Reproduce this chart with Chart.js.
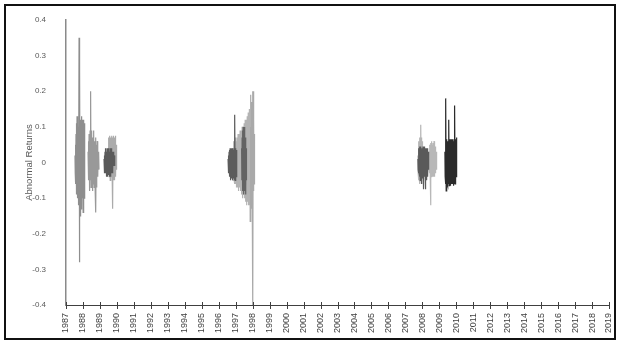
<!DOCTYPE html>
<html>
<head>
<meta charset="utf-8">
<script src="https://cdn.jsdelivr.net/npm/chart.js@4"></script>
<style>
  body { margin: 0; background: #fff; }
  #wrap { position: relative; width: 619px; height: 345px; }
  #frame { position: absolute; left: 4px; top: 4px; width: 612px; height: 336px; border: 2px solid #111; box-sizing: border-box; pointer-events: none; }
</style>
</head>
<body>
<div id="wrap">
  <canvas id="chart" width="619" height="345"></canvas>
  <div id="frame"></div>
</div>
<script>
// spacing between observations (years)
const STEP = 0.015;

const yearTicks = [1987, 2019];
const yTicks = [-0.4, 0.4, 0.1];

// each window: start date (decimal year) + abnormal returns
const start1987a = 1987.53;
const ret1987a = [0.02,-0.03,0.05,-0.06,0.08,-0.09,0.11,-0.08,0.13,-0.1,0.12,-0.07,0.1,-0.12,0.09,-0.11,0.35,-0.28,0.13,0.26,-0.15,0.12,-0.14,0.1,-0.13,0.11,-0.12,0.13,-0.09,0.12,-0.1,0.08,-0.14,0.11,-0.07,0.12,-0.1,0.11,-0.08,0.06];

const start1988 = 1988.30;
const ret1988 = [0.03,-0.04,0.06,-0.05,0.08,-0.06,0.07,-0.08,0.09,-0.05,0.06,0.2,-0.07,0.08,-0.06,0.09,-0.04,0.07,-0.08,0.05,-0.06,0.09,-0.05,0.08,-0.07,0.06,-0.04,0.05,-0.08,0.07,-0.06,-0.14,0.05,-0.07,0.04,-0.05,0.06,-0.03,0.04,-0.04,0.03,-0.02,0.03,-0.02];

const start1989dark = 1989.24;
const ret1989dark = [0.01,-0.02,0.02,-0.03,0.03,-0.02,0.04,-0.03,0.02,-0.04,0.03,-0.02,0.04,-0.03,0.035,-0.04,0.03,-0.02,0.04,-0.035,0.03,-0.04,0.02,-0.03,0.04,-0.02,0.03,-0.04,0.035,-0.03,0.04,-0.02,0.03,-0.03,0.02,-0.02,0.03,-0.01,0.02,-0.01,0.02,-0.01,0.01,-0.01];

const start1989light = 1989.47;
const ret1989light = [0.03,-0.02,0.05,-0.03,0.07,-0.04,0.075,-0.03,0.06,-0.05,0.07,-0.02,0.05,-0.04,0.075,-0.03,0.06,-0.05,0.07,-0.13,0.05,-0.03,0.075,-0.05,0.06,-0.04,0.07,-0.05,0.06,-0.03,0.075,-0.04,0.05,-0.02,0.03,-0.02];

const start1996dark = 1996.55;
const ret1996dark = [0.01,-0.02,0.02,-0.03,0.03,-0.04,0.035,-0.03,0.04,-0.05,0.03,-0.04,0.035,-0.045,0.04,-0.03,0.03,-0.05,0.04,-0.04,0.03,-0.045,0.035,-0.04,0.04,-0.05,0.03,0.134,-0.05,0.04,-0.045,0.03,-0.04,0.035,-0.03,0.02];

const start1997light = 1996.78;
const ret1997light = [0.02,-0.03,0.03,-0.04,0.04,-0.05,0.05,-0.04,0.06,-0.05,0.05,-0.06,0.06,-0.05,0.07,-0.06,0.05,-0.07,0.06,-0.05,0.07,-0.06,0.06,-0.07,0.08,-0.06,0.07,-0.08,0.06,-0.07,0.08,-0.07,0.09,-0.06,0.07,-0.08,0.09,-0.07,0.08,-0.09,0.1,-0.08,0.09,-0.1,0.08,-0.09,0.1,-0.08,0.11,-0.09,0.1,-0.1,0.12,-0.09,0.1,-0.11,0.12,-0.1,0.11,-0.12,0.13,-0.1,0.12,-0.11,0.14,-0.12,0.13,-0.1,0.15,-0.12];

const start1997dark = 1997.35;
const ret1997dark = [0.04,-0.05,0.07,-0.06,0.09,-0.08,0.1,-0.07,0.08,-0.09,0.06,-0.08,0.1,-0.06,0.07,-0.09,0.05,-0.07,0.04,-0.05];

const start1998 = 1997.84;
const ret1998 = [0.1,-0.165,0.15,-0.12,0.19,-0.1,0.17,-0.13,0.15,-0.1,0.18,0.2,-0.4,0.2,-0.08,0.12,-0.06,0.08,-0.05,0.03];

const start2007light = 2007.74;
const ret2007light = [0.02,-0.03,0.04,-0.05,0.06,-0.04,0.05,-0.06,0.07,-0.05,0.06,-0.04,0.106,-0.05,0.07,-0.06,0.05,-0.04,0.06,-0.03];

const start2007dark = 2007.74;
const ret2007dark = [0.01,-0.02,0.03,-0.03,0.04,-0.03,0.045,-0.04,0.03,-0.05,0.04,-0.035,0.045,-0.04,0.03,-0.06,0.04,-0.045,0.035,-0.04,0.045,-0.05,0.04,-0.075,0.03,-0.04,0.045,-0.035,0.04,-0.075,0.035,-0.045,0.04,-0.04,0.03,-0.05,0.04,-0.03,0.035,-0.04,0.03,-0.02,0.02,-0.01];

const start2008 = 2008.39;
const ret2008 = [0.03,-0.02,0.04,-0.03,0.05,-0.04,0.055,-0.12,0.05,-0.04,0.06,-0.03,0.05,-0.04,0.045,-0.035,0.055,-0.04,0.05,-0.03,0.06,-0.04,0.05,-0.035,0.045,-0.03,0.04,-0.02,0.03,-0.02,0.02,-0.01];

const start2009 = 2009.33;
const ret2009 = [0.03,-0.04,0.05,-0.06,0.18,-0.08,0.06,-0.05,0.065,-0.06,0.05,-0.065,0.06,-0.05,0.065,-0.06,0.12,-0.065,0.05,-0.06,0.065,-0.05,0.06,-0.065,0.05,-0.06,0.065,-0.05,0.06,-0.055,0.065,-0.06,0.05,-0.065,0.06,-0.05,0.065,-0.06,0.05,0.16,-0.06,0.065,-0.05,0.06,-0.04,0.07,-0.03,0.02];

function toPoints(start, values) {
  return values.map((v, i) => ({ x: start + i * STEP, y: v }));
}

function series(start, values, color) {
  return {
    data: toPoints(start, values),
    borderColor: color,
    borderWidth: 1.2,
    pointRadius: 0,
    tension: 0,
    fill: false
  };
}

// first dataset is drawn on top
const datasets = [
  series(start1989dark, ret1989dark, '#5a5a5a'),
  series(start1989light, ret1989light, '#ababab'),
  series(start1987a, ret1987a, '#8e8e8e'),
  series(start1988, ret1988, '#999999'),
  series(start1996dark, ret1996dark, '#5c5c5c'),
  series(start1997dark, ret1997dark, '#636363'),
  series(start1997light, ret1997light, '#b3b3b3'),
  series(start1998, ret1998, '#a9a9a9'),
  series(start2007dark, ret2007dark, '#5a5a5a'),
  series(start2007light, ret2007light, '#b5b5b5'),
  series(start2008, ret2008, '#b8b8b8'),
  series(start2009, ret2009, '#2b2b2b')
];

// tick marks crossing the x axis
const crossTicks = {
  id: 'crossTicks',
  afterDraw(chart) {
    const xs = chart.scales.x;
    const ctx = chart.ctx;
    const y = chart.chartArea.bottom;
    ctx.save();
    ctx.strokeStyle = '#404040';
    ctx.lineWidth = 1;
    xs.ticks.forEach(t => {
      const px = Math.round(xs.getPixelForValue(t.value)) + 0.5;
      ctx.beginPath();
      ctx.moveTo(px, y - 3);
      ctx.lineTo(px, y + 4);
      ctx.stroke();
    });
    ctx.restore();
  }
};

const font = 'Liberation Sans';

new Chart(document.getElementById('chart'), {
  type: 'line',
  data: { datasets: datasets },
  plugins: [crossTicks],
  options: {
    responsive: false,
    animation: false,
    devicePixelRatio: 1,
    layout: { padding: { left: 21, right: 10, top: 20, bottom: 5 } },
    plugins: { legend: { display: false }, tooltip: { enabled: false } },
    scales: {
      x: {
        type: 'linear',
        min: yearTicks[0],
        max: yearTicks[1],
        ticks: {
          stepSize: 1,
          autoSkip: false,
          minRotation: 90,
          maxRotation: 90,
          padding: 8,
          color: '#404040',
          font: { family: font, size: 9 },
          callback: v => String(v)
        },
        grid: { display: false, drawTicks: false },
        border: { display: true, color: '#404040', width: 1 },
        afterFit(s) { s.height = 35; s.paddingLeft = 0; s.paddingRight = 0; }
      },
      y: {
        min: yTicks[0],
        max: yTicks[1],
        ticks: {
          stepSize: yTicks[2],
          padding: 20,
          color: '#595959',
          font: { family: font, size: 8 }
        },
        grid: { display: false, drawTicks: false },
        border: { display: true, color: '#8a8a8a', width: 1.5 },
        title: {
          display: true,
          text: 'Abnormal Returns',
          color: '#595959',
          font: { family: font, size: 9.5 },
          padding: 3
        },
        afterFit(s) { s.width = 45; s.paddingTop = 0; s.paddingBottom = 0; }
      }
    }
  }
});
</script>
</body>
</html>
